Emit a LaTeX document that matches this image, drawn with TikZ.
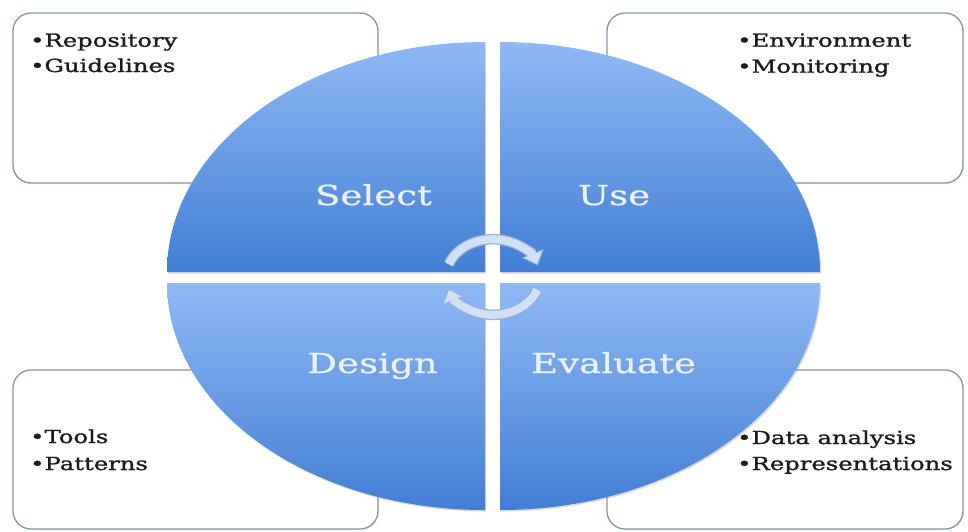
\documentclass[tikz,border=0pt]{standalone}
\usepackage{fontspec}
\setmainfont{DejaVu Serif}[FakeStretch=1.35]
\newfontfamily\itemfont{DejaVu Serif}[FakeStretch=1.35,FakeBold=1.4]
\newfontfamily\lblfont{DejaVu Serif}[FakeStretch=1.35,FakeBold=0.8]
\usetikzlibrary{arrows.meta,shadows}
\definecolor{qtop}{RGB}{143,185,244}
\definecolor{qbot}{RGB}{66,126,213}
\definecolor{boxedge}{RGB}{132,149,177}
\definecolor{lbltext}{RGB}{234,242,253}
\definecolor{itemtext}{RGB}{28,28,28}
\definecolor{arrowedge}{RGB}{152,176,212}
\definecolor{arrowfill}{RGB}{208,224,246}
\begin{document}
\begin{tikzpicture}[x=1pt,y=-1pt,
  infobox/.style={draw=boxedge, line width=1.3pt, fill=white, rounded corners=18pt,
    drop shadow={shadow xshift=1pt, shadow yshift=-1pt, opacity=0.15}},
  quad/.style={top color=qtop, bottom color=qbot,
    drop shadow={shadow xshift=1.2pt, shadow yshift=-1.5pt, opacity=0.3}},
  lbl/.style={text=lbltext, font=\lblfont\fontsize{27.5}{33}\selectfont, anchor=base, inner sep=0pt},
  item/.style={text=itemtext, font=\itemfont\fontsize{18}{26}\selectfont, anchor=base west, inner sep=0pt},
  cycarrow/.style={line width=10.5pt, draw=arrowedge, -{Triangle[length=13pt,width=23pt]}},
  cycarrowin/.style={line width=8pt, draw=arrowfill, shorten >=1.6pt, -{Triangle[length=10.5pt,width=18.5pt]}},
]
\useasboundingbox (0,0) rectangle (968,531);
% boxes
\path[infobox] (13,13) rectangle (378,183);
\path[infobox] (607,13) rectangle (963,183);
\path[infobox] (13,370) rectangle (378,529);
\path[infobox] (607,370) rectangle (963,529);
% quadrants
\path[quad] (485,272) -- (167,272) arc[start angle=180, end angle=270, x radius=318, y radius=230] -- cycle;
\path[quad] (500,272) -- (500,42) arc[start angle=270, end angle=360, x radius=320, y radius=230] -- cycle;
\path[quad] (485,283) -- (167,283) arc[start angle=180, end angle=90, x radius=318, y radius=227] -- cycle;
\path[quad] (500,283) -- (820,283) arc[start angle=0, end angle=90, x radius=320, y radius=227] -- cycle;
% cycle arrows
\coordinate (ta) at (448.8,264.2);
\coordinate (ba) at (537.2,289.8);
\draw[cycarrow] (ta) arc[start angle=200, end angle=342, x radius=47, y radius=38];
\draw[cycarrowin] (ta) arc[start angle=200, end angle=342, x radius=47, y radius=38];
\draw[cycarrow] (ba) arc[start angle=20, end angle=162, x radius=47, y radius=38];
\draw[cycarrowin] (ba) arc[start angle=20, end angle=162, x radius=47, y radius=38];
% labels
\node[lbl] (select) at (373.5,205) {Select};
\node[lbl] (use) at (614,205) {Use};
\node[lbl] (design) at (372.5,373) {Design};
\node[lbl] (evaluate) at (613.5,373) {Evaluate};
% items
\node[item] (i1) at (30,46.7) {•Repository};
\node[item] (i2) at (30,72) {•Guidelines};
\node[item] (i3) at (737,46.7) {•Environment};
\node[item] (i4) at (737,72.7) {•Monitoring};
\node[item] (i5) at (30,443) {•Tools};
\node[item] (i6) at (30,470) {•Patterns};
\node[item] (i7) at (737,444) {•Data analysis};
\node[item] (i8) at (737,470) {•Representations};
\end{tikzpicture}
\end{document}
